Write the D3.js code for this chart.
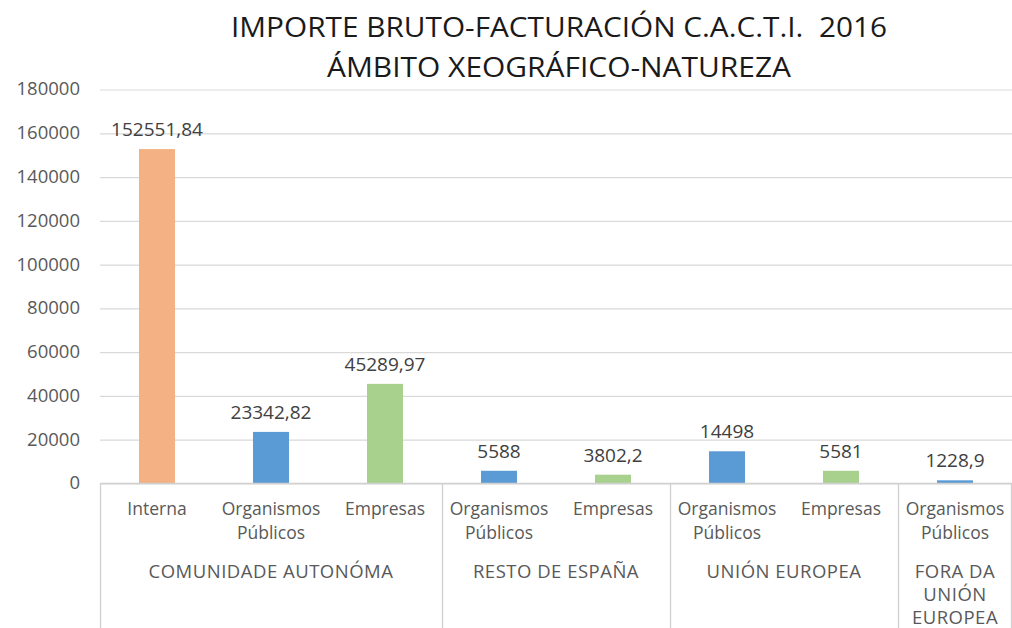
<!DOCTYPE html>
<html>
<head>
<meta charset="utf-8">
<script src="https://cdn.jsdelivr.net/npm/d3@7"></script>
<style>
  html, body { margin: 0; padding: 0; background: #ffffff; }
  svg { display: block; }
  text { font-family: "Open Sans", "DejaVu Sans", sans-serif; white-space: pre; }
</style>
</head>
<body>
<svg id="chart" width="1012" height="628"></svg>
<script>
// ---- data ----
const titleLines = ["IMPORTE BRUTO-FACTURACIÓN C.A.C.T.I.  2016", "ÁMBITO XEOGRÁFICO-NATUREZA"];
const categories = ["Interna", "Organismos Públicos", "Empresas", "Organismos Públicos", "Empresas", "Organismos Públicos", "Empresas", "Organismos Públicos"];
const categoryLines = [["Interna"], ["Organismos", "Públicos"], ["Empresas"], ["Organismos", "Públicos"], ["Empresas"], ["Organismos", "Públicos"], ["Empresas"], ["Organismos", "Públicos"]];
const values = [152551.84, 23342.82, 45289.97, 5588, 3802.2, 14498, 5581, 1228.9];
const groups = ["COMUNIDADE AUTONÓMA", "RESTO DE ESPAÑA", "UNIÓN EUROPEA", "FORA DA UNIÓN EUROPEA"];
const groupLines = [["COMUNIDADE AUTONÓMA"], ["RESTO DE ESPAÑA"], ["UNIÓN EUROPEA"], ["FORA DA", "UNIÓN", "EUROPEA"]];
const groupSizes = [3, 2, 2, 1];
const yTicks = [0, 20000, 40000, 60000, 80000, 100000, 120000, 140000, 160000, 180000];
const kindColors = { "Interna": "#F4B183", "Organismos Públicos": "#5B9BD5", "Empresas": "#A9D18E" };

// ---- layout ----
const svg = d3.select("#chart");
const plotLeft = 100, plotRight = 1012, plotTop = 89, plotBottom = 483;

const pI = 0.684;
const x = d3.scaleBand()
  .domain(d3.range(categories.length))
  .range([plotLeft, plotRight])
  .paddingInner(pI)
  .paddingOuter(pI / 2);

const y = d3.scaleLinear().domain([0, 180000]).range([plotBottom, plotTop]);

const locale = d3.formatLocale({ decimal: ",", thousands: "", grouping: [3], currency: ["", ""] });
const fmt = locale.format("~f");

// title
svg.append("g").selectAll("text")
  .data(titleLines)
  .join("text")
  .attr("x", 559)
  .attr("y", (d, i) => 37 + i * 40)
  .attr("text-anchor", "middle")
  .attr("font-size", 27)
  .attr("fill", "#1a1a1a")
  .attr("textLength", (d, i) => i === 0 ? 656 : 464)
  .attr("lengthAdjust", "spacingAndGlyphs")
  .text(d => d);

// gridlines
const yAxis = d3.axisLeft(y).tickValues(yTicks).tickSize(-(plotRight - plotLeft)).tickPadding(20).tickFormat(d3.format("d"));
const gy = svg.append("g")
  .attr("transform", `translate(${plotLeft},0)`)
  .call(yAxis);
gy.select(".domain").remove();
gy.selectAll(".tick line")
  .attr("stroke", "#d9d9d9")
  .attr("stroke-width", 1.2)
  .attr("transform", "translate(0,0.5)");
gy.selectAll(".tick text")
  .attr("font-size", 18.5)
  .attr("fill", "#595959")
  .attr("font-family", "'Open Sans', sans-serif");

// bars
svg.append("g").selectAll("rect")
  .data(values)
  .join("rect")
  .attr("x", (d, i) => x(i))
  .attr("width", x.bandwidth())
  .attr("y", d => y(d))
  .attr("height", d => y(0) - y(d))
  .attr("fill", (d, i) => kindColors[categories[i]]);

// data labels
svg.append("g").selectAll("text")
  .data(values)
  .join("text")
  .attr("x", (d, i) => x(i) + x.bandwidth() / 2)
  .attr("y", d => y(d) - 13)
  .attr("text-anchor", "middle")
  .attr("font-size", 19)
  .attr("fill", "#404040")
  .text(d => fmt(d));

// category axis: baseline and dividers
const slotStart = k => x.range()[0] + k * x.step();
const bounds = [0].concat(Array.from(d3.cumsum(groupSizes)));
const axisG = svg.append("g");
axisG.append("line")
  .attr("x1", plotLeft).attr("x2", plotRight)
  .attr("y1", y(0) + 0.5).attr("y2", y(0) + 0.5)
  .attr("stroke", "#d0d0d0").attr("stroke-width", 1.3);
axisG.selectAll("line.div")
  .data(bounds)
  .join("line")
  .attr("class", "div")
  .attr("x1", k => Math.min(slotStart(k), plotRight - 1) + 0.5)
  .attr("x2", k => Math.min(slotStart(k), plotRight - 1) + 0.5)
  .attr("y1", y(0))
  .attr("y2", 628)
  .attr("stroke", "#d0d0d0").attr("stroke-width", 1.3);

// category labels
const catG = svg.append("g").selectAll("text")
  .data(categoryLines)
  .join("text")
  .attr("text-anchor", "middle")
  .attr("font-size", 17.5)
  .attr("fill", "#595959");
catG.selectAll("tspan")
  .data((d, i) => d.map(line => ({ line, i })))
  .join("tspan")
  .attr("x", d => x(d.i) + x.bandwidth() / 2)
  .attr("y", (d, j) => 515 + j * 23.5)
  .text(d => d.line);

// group labels
const grpG = svg.append("g").selectAll("text")
  .data(groupLines)
  .join("text")
  .attr("text-anchor", "middle")
  .attr("font-size", 18.5)
  .attr("letter-spacing", 0.5)
  .attr("fill", "#595959");
grpG.selectAll("tspan")
  .data((d, gi) => d.map(line => ({ line, gi })))
  .join("tspan")
  .attr("x", d => (slotStart(bounds[d.gi]) + slotStart(bounds[d.gi + 1])) / 2)
  .attr("y", (d, j) => 578 + j * 23)
  .text(d => d.line);
</script>
</body>
</html>
